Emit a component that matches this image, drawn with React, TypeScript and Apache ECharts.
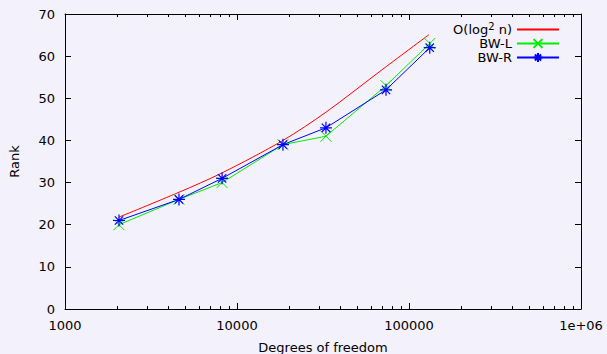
import React, { useEffect, useRef } from "react";
import * as echarts from "echarts";

const dof = [2060, 4600, 8190, 18500, 32900, 73500, 132000];
const bwL = [20, 26, 30, 39, 41, 53, 63];
const bwR = [21, 26, 31, 39, 43, 52, 62];
const fitX = [2060, 4600, 8190, 18500, 32900, 67800, 130600];
const fitY = [21.8, 27.7, 32.3, 40.0, 46.7, 56.4, 65.1];
const xMajor = [1000, 10000, 100000, 1000000];
const xMinor = [
  2000, 3000, 4000, 5000, 6000, 7000, 8000, 9000,
  20000, 30000, 40000, 50000, 60000, 70000, 80000, 90000,
  200000, 300000, 400000, 500000, 600000, 700000, 800000, 900000,
];

const FONT = "DejaVu Sans";
const FS = 13;
const CROSS = "path://M0,0L10,10M10,0L0,10";
const STAR = "path://M0,5L10,5M5,0L5,10M1.5,1.5L8.5,8.5M8.5,1.5L1.5,8.5";

export default function App() {
  const ref = useRef<HTMLDivElement>(null);
  useEffect(() => {
    const chart = echarts.init(ref.current!, undefined, { renderer: "svg" });
    const baseX = {
      type: "log" as const,
      logBase: 10,
      min: 1000,
      max: 1000000,
      splitLine: { show: false },
    };
    chart.setOption({
      animation: false,
      backgroundColor: "#f3f1fb",
      textStyle: { fontFamily: FONT },
      grid: { left: 65, right: 26, top: 14, bottom: 45, outerBoundsMode: "none", containLabel: false },
      legend: {
        right: 42,
        top: 16,
        orient: "vertical",
        align: "right",
        itemWidth: 42,
        itemHeight: 11,
        itemGap: 1,
        textStyle: {
          fontFamily: FONT,
          fontSize: FS,
          color: "#000",
          rich: {
            sup: { fontSize: 10, fontFamily: FONT, color: "#000", padding: [0, 0, 7, 0] },
          },
        },
        formatter: (name: string) =>
          name === "fit" ? "O(log{sup|2} n)" : name,
        data: [
          { name: "fit", itemStyle: { opacity: 0 } },
          "BW-L",
          "BW-R",
        ],
      },
      xAxis: [
        {
          ...baseX,
          position: "bottom",
          name: "Degrees of freedom",
          nameLocation: "middle",
          nameGap: 32,
          nameTextStyle: { fontFamily: FONT, fontSize: FS, color: "#000" },
          axisLine: { show: true, lineStyle: { color: "#000", width: 1 } },
          axisTick: { show: true, inside: true, length: 6, customValues: xMajor, lineStyle: { color: "#000" } },
          axisLabel: {
            show: true,
            margin: 10,
            fontFamily: FONT,
            fontSize: FS,
            color: "#000",
            customValues: xMajor,
            formatter: (v: number) => (v >= 1000000 ? "1e+06" : String(Math.round(v))),
          },
        },
        {
          ...baseX,
          position: "bottom",
          axisLine: { show: false },
          axisTick: { show: true, inside: true, length: 3, customValues: xMinor, lineStyle: { color: "#000" } },
          axisLabel: { show: false },
        },
        {
          ...baseX,
          position: "top",
          axisLine: { show: true, lineStyle: { color: "#000", width: 1 } },
          axisTick: { show: true, inside: true, length: 6, customValues: xMajor, lineStyle: { color: "#000" } },
          axisLabel: { show: false },
        },
        {
          ...baseX,
          position: "top",
          axisLine: { show: false },
          axisTick: { show: true, inside: true, length: 3, customValues: xMinor, lineStyle: { color: "#000" } },
          axisLabel: { show: false },
        },
      ],
      yAxis: [
        {
          type: "value",
          min: 0,
          max: 70,
          interval: 10,
          position: "left",
          name: "Rank",
          nameLocation: "middle",
          nameGap: 44,
          nameTextStyle: { fontFamily: FONT, fontSize: FS, color: "#000" },
          splitLine: { show: false },
          axisLine: { show: true, lineStyle: { color: "#000", width: 1 } },
          axisTick: { show: true, inside: true, length: 6, lineStyle: { color: "#000" } },
          axisLabel: { margin: 10, fontFamily: FONT, fontSize: FS, color: "#000" },
        },
        {
          type: "value",
          min: 0,
          max: 70,
          interval: 10,
          position: "right",
          splitLine: { show: false },
          axisLine: { show: true, lineStyle: { color: "#000", width: 1 } },
          axisTick: { show: true, inside: true, length: 6, lineStyle: { color: "#000" } },
          axisLabel: { show: false },
        },
      ],
      series: [
        {
          name: "fit",
          type: "line",
          xAxisIndex: 0,
          yAxisIndex: 0,
          data: fitX.map((x, i) => [x, fitY[i]]),
          smooth: 0.3,
          showSymbol: false,
          symbol: "none",
          itemStyle: { color: "#ff0000" },
          lineStyle: { color: "#ff0000", width: 1 },
        },
        {
          name: "BW-L",
          type: "line",
          xAxisIndex: 0,
          yAxisIndex: 0,
          data: dof.map((x, i) => [x, bwL[i]]),
          symbol: CROSS,
          symbolSize: 11,
          itemStyle: { color: "#00ee00", borderColor: "#00ee00", borderWidth: 1 },
          lineStyle: { color: "#00ee00", width: 1 },
        },
        {
          name: "BW-R",
          type: "line",
          xAxisIndex: 0,
          yAxisIndex: 0,
          data: dof.map((x, i) => [x, bwR[i]]),
          symbol: STAR,
          symbolSize: 12,
          itemStyle: { color: "#0000ff", borderColor: "#0000ff", borderWidth: 1.2 },
          lineStyle: { color: "#0000ff", width: 1 },
        },
      ],
    });
    return () => chart.dispose();
  }, []);
  return <div ref={ref} style={{ width: 607, height: 354, position: "absolute", left: 0, top: 0 }} />;
}
